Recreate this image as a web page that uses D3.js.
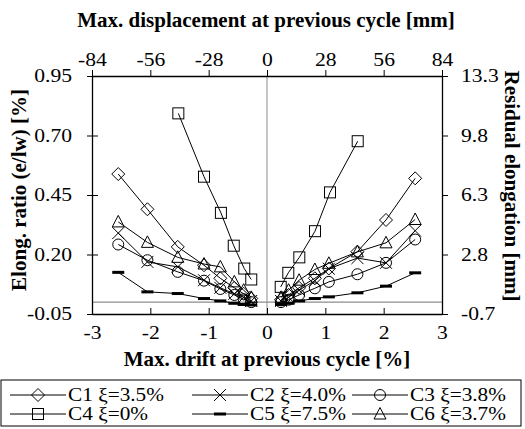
<!DOCTYPE html>
<html><head><meta charset="utf-8">
<script src="https://cdn.jsdelivr.net/npm/d3@7"></script>
<style>
html,body{margin:0;padding:0;background:#fff;}
svg text{font-family:"Liberation Serif","Times New Roman",serif;fill:#000;}
</style></head>
<body><svg id="c" width="525" height="429"></svg>
<script>
// ---- data ----
const seriesNames = ["C1 ξ=3.5%","C2 ξ=4.0%","C3 ξ=3.8%","C4 ξ=0%","C5 ξ=7.5%","C6 ξ=3.7%"];
const seriesSymbols = ["diamond","cross","circle","square","bar","triangle"];
const leftDrift  = [-2.55,-2.05,-1.53,-1.08,-0.80,-0.56,-0.40,-0.27];
const rightDrift = [0.24,0.37,0.55,0.82,1.06,1.55,2.04,2.54];
const c4LeftDrift  = [-1.52,-1.08,-0.79,-0.57,-0.39,-0.27];
const c4RightDrift = [0.235,0.365,0.554,0.823,1.08,1.555];
const c1Left  = [0.538,0.39,0.232,0.155,0.10,0.06,0.035,0.015];
const c1Right = [0.01,0.03,0.06,0.10,0.141,0.212,0.345,0.52];
const c2Left  = [0.29,0.169,0.148,0.092,0.06,0.035,0.02,0.005];
const c2Right = [0.005,0.02,0.05,0.09,0.14,0.185,0.165,0.30];
const c3Left  = [0.242,0.176,0.127,0.09,0.055,0.03,0.012,0.0];
const c3Right = [0.0,0.01,0.03,0.058,0.085,0.117,0.165,0.263];
const c4Left  = [0.793,0.527,0.375,0.237,0.141,0.095];
const c4Right = [0.064,0.123,0.188,0.298,0.461,0.676];
const c5Left  = [0.125,0.043,0.036,0.015,0.005,-0.005,-0.01,-0.012];
const c5Right = [-0.01,-0.005,0.005,0.015,0.022,0.039,0.067,0.123];
const c6Left  = [0.337,0.251,0.188,0.16,0.148,0.085,0.05,0.02];
const c6Right = [0.02,0.05,0.092,0.137,0.163,0.211,0.249,0.347];
const bottomTicks = [-3,-2,-1,0,1,2,3];
const topTicks = [-84,-56,-28,0,28,56,84];
const leftTicks = [-0.05,0.20,0.45,0.70,0.95];
const rightTicks = [-0.7,2.8,6.3,9.8,13.3];

const branches = [
  [leftDrift,c1Left,0],[rightDrift,c1Right,0],
  [leftDrift,c2Left,1],[rightDrift,c2Right,1],
  [leftDrift,c3Left,2],[rightDrift,c3Right,2],
  [c4LeftDrift,c4Left,3],[c4RightDrift,c4Right,3],
  [leftDrift,c5Left,4],[rightDrift,c5Right,4],
  [leftDrift,c6Left,5],[rightDrift,c6Right,5]
];

// ---- layout ----
const L=92, R=442, T=76, B=314;
const svg = d3.select("#c");
const x = d3.scaleLinear().domain([-3,3]).range([L,R]);
const xTop = d3.scaleLinear().domain([-84,84]).range([L,R]);
const y = d3.scaleLinear().domain([-0.05,0.95]).range([B,T]);
const yR = d3.scaleLinear().domain([-0.7,13.3]).range([B,T]);
const FS = 18, STRETCH = 1.2;

function stretch(sel, k){
  sel.each(function(){
    const w = this.getComputedTextLength();
    d3.select(this).attr("textLength", w*k).attr("lengthAdjust","spacingAndGlyphs");
  });
}

// zero lines
svg.append("line").attr("x1",x(0)).attr("x2",x(0)).attr("y1",T).attr("y2",B)
  .attr("stroke","#8c8c8c").attr("stroke-width",1);
svg.append("line").attr("x1",L).attr("x2",R).attr("y1",y(0)).attr("y2",y(0))
  .attr("stroke","#8c8c8c").attr("stroke-width",1.2);

// axes
function styleAxis(g){
  g.attr("font-family",null);
  g.select(".domain").attr("stroke","#000").attr("stroke-width",1.3);
  g.selectAll(".tick line").attr("stroke","#000").attr("stroke-width",1);
  g.selectAll(".tick text").attr("font-size",FS)
    .text(function(){return d3.select(this).text().replace("−","-");});
  stretch(g.selectAll(".tick text"), STRETCH);
}
const gB = svg.append("g").attr("transform",`translate(0,${B})`)
  .call(d3.axisBottom(x).tickValues(bottomTicks).tickFormat(d3.format("d")).tickSizeInner(-6).tickSizeOuter(0).tickPadding(12));
styleAxis(gB);
const gT = svg.append("g").attr("transform",`translate(0,${T})`)
  .call(d3.axisTop(xTop).tickValues(topTicks).tickFormat(d3.format("d")).tickSizeInner(6).tickSizeOuter(0).tickPadding(4));
styleAxis(gT);
const gL = svg.append("g").attr("transform",`translate(${L},0)`)
  .call(d3.axisLeft(y).tickValues(leftTicks).tickFormat(d3.format(".2f")).tickSizeInner(5).tickSizeOuter(0).tickPadding(15));
styleAxis(gL);
gL.selectAll(".tick line").attr("x2",6).attr("x1",-5);
const gR = svg.append("g").attr("transform",`translate(${R},0)`)
  .call(d3.axisRight(yR).tickValues(rightTicks).tickFormat(d3.format(".1f")).tickSizeInner(6).tickSizeOuter(0).tickPadding(13));
styleAxis(gR);

// titles
svg.append("text").attr("x",266).attr("y",27).attr("text-anchor","middle")
  .attr("font-size",21).attr("font-weight","bold").text("Max. displacement at previous cycle [mm]");
svg.append("text").attr("x",267).attr("y",366).attr("text-anchor","middle")
  .attr("font-size",21).attr("font-weight","bold").text("Max. drift at previous cycle [%]");
svg.append("text").attr("transform","translate(26,190) rotate(-90)").attr("text-anchor","middle")
  .attr("font-size",21).attr("font-weight","bold").text("Elong. ratio (e/lw) [%]");
svg.append("text").attr("transform","translate(505,186) rotate(90)").attr("text-anchor","middle")
  .attr("font-size",21).attr("font-weight","bold").text("Residual elongation [mm]");

// markers
function drawSymbol(g, kind, cx, cy){
  const s = g.append("g").attr("transform",`translate(${cx},${cy})`);
  if(kind==="diamond"){
    s.append("path").attr("d","M0,-6.5L6.5,0L0,6.5L-6.5,0Z").attr("fill","none").attr("stroke","#000");
  } else if(kind==="cross"){
    s.append("path").attr("d","M-6,-6L6,6M-6,6L6,-6").attr("fill","none").attr("stroke","#000");
  } else if(kind==="circle"){
    s.append("circle").attr("r",5.5).attr("fill","none").attr("stroke","#000");
  } else if(kind==="square"){
    s.append("rect").attr("x",-5.5).attr("y",-5.5).attr("width",11).attr("height",11).attr("fill","none").attr("stroke","#000");
  } else if(kind==="bar"){
    s.append("rect").attr("x",-6).attr("y",-1.5).attr("width",12).attr("height",3).attr("fill","#000");
  } else if(kind==="triangle"){
    s.append("path").attr("d","M0,-6.5L6,5L-6,5Z").attr("fill","none").attr("stroke","#000");
  }
}

const line = d3.line().x(d=>x(d[0])).y(d=>y(d[1]));
const plot = svg.append("g");
branches.forEach(([dr,vals,si])=>{
  const pts = dr.map((d,i)=>[d,vals[i]]);
  plot.append("path").attr("d",line(pts)).attr("fill","none").attr("stroke","#000").attr("stroke-width",1);
});
branches.forEach(([dr,vals,si])=>{
  dr.forEach((d,i)=>drawSymbol(plot, seriesSymbols[si], x(d), y(vals[i])));
});

// legend
const lg = svg.append("g");
lg.append("rect").attr("x",1).attr("y",380).attr("width",520).attr("height",46)
  .attr("fill","none").attr("stroke","#000").attr("stroke-width",1);
const colX = [10,192,352];
const rowY = [395,414];
seriesNames.forEach((name,i)=>{
  const cx = colX[i%3], cy = rowY[Math.floor(i/3)];
  lg.append("line").attr("x1",cx).attr("x2",cx+56).attr("y1",cy).attr("y2",cy).attr("stroke","#000");
  drawSymbol(lg, seriesSymbols[i], cx+28, cy);
  const t = lg.append("text").attr("x",cx+58).attr("y",cy+6).attr("font-size",19).text(name);
  stretch(t, 1.12);
});
</script></body></html>
